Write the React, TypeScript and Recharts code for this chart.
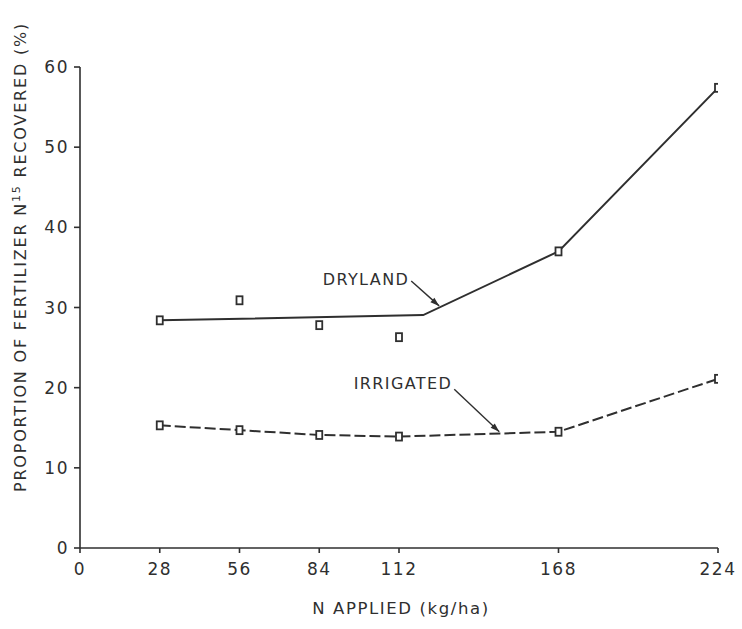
import React from 'react';
import {
  ComposedChart,
  Line,
  Scatter,
  XAxis,
  YAxis,
  ReferenceLine,
} from 'recharts';

// N applied (kg/ha)
const xTicks = [0, 28, 56, 84, 112, 168, 224];
const yTicks = [0, 10, 20, 30, 40, 50, 60];

// measured points
const drylandPoints = [
  { x: 28, y: 28.4 },
  { x: 56, y: 30.9 },
  { x: 84, y: 27.8 },
  { x: 112, y: 26.3 },
  { x: 168, y: 37.0 },
  { x: 224, y: 57.4 },
];
const irrigatedPoints = [
  { x: 28, y: 15.3 },
  { x: 56, y: 14.7 },
  { x: 84, y: 14.1 },
  { x: 112, y: 13.9 },
  { x: 168, y: 14.5 },
  { x: 224, y: 21.1 },
];

// fitted dryland segments (do not pass through every point)
const drylandFit = [
  { x: 28, y: 28.4 },
  { x: 120.5, y: 29.05 },
  { x: 168, y: 37.0 },
  { x: 224, y: 57.4 },
];

// series annotations: arrow from label to line
const annotations = [
  { label: 'DRYLAND', from: { x: 116.3, y: 33.3 }, to: { x: 126.1, y: 30.2 }, dy: 4 },
  { label: 'IRRIGATED', from: { x: 131.4, y: 19.8 }, to: { x: 147.2, y: 14.5 }, dy: 0 },
];

const INK = '#2f2f2f';
const FONT = '"DejaVu Sans", sans-serif';

const SquareDot = (props: any) => {
  const { cx, cy } = props;
  if (cx == null || cy == null) return null;
  return (
    <rect x={cx - 3} y={cy - 4} width={6} height={8} fill="#fff" stroke={INK} strokeWidth={1.8} />
  );
};

const arrowShape = (label: string, dy: number) => (props: any) => {
  const { x1, y1, x2, y2 } = props;
  const ang = Math.atan2(y2 - y1, x2 - x1);
  const len = 9;
  const w = 3;
  const bx = x2 - len * Math.cos(ang);
  const by = y2 - len * Math.sin(ang);
  const px = -Math.sin(ang) * w;
  const py = Math.cos(ang) * w;
  return (
    <g>
      <line x1={x1} y1={y1} x2={x2} y2={y2} stroke={INK} strokeWidth={1.4} />
      <polygon points={`${x2},${y2} ${bx + px},${by + py} ${bx - px},${by - py}`} fill={INK} />
      <text
        x={x1 - 2}
        y={y1 + dy}
        textAnchor="end"
        fontFamily={FONT}
        fontSize={16}
        letterSpacing={1.4}
        fill={INK}
      >
        {label}
      </text>
    </g>
  );
};

export default function App() {
  return (
    <div style={{ position: 'absolute', left: 0, top: 0, width: 742, height: 629, background: '#fff' }}>
      <ComposedChart width={742} height={629} margin={{ top: 67, right: 24, left: 0, bottom: 51 }}>
        <XAxis
          type="number"
          dataKey="x"
          domain={[0, 224]}
          ticks={xTicks}
          interval={0}
          axisLine={{ stroke: INK, strokeWidth: 1.6 }}
          tickLine={{ stroke: INK, strokeWidth: 1.6 }}
          tickSize={5}
          tickMargin={10}
          height={30}
          tick={{ fill: INK, fontSize: 17, fontFamily: FONT, letterSpacing: 1.5 }}
          allowDataOverflow
        />
        <YAxis
          type="number"
          dataKey="y"
          domain={[0, 60]}
          ticks={yTicks}
          interval={0}
          width={80}
          axisLine={{ stroke: INK, strokeWidth: 1.6 }}
          tickLine={{ stroke: INK, strokeWidth: 1.6 }}
          tickSize={6}
          tickMargin={5}
          tick={{ fill: INK, fontSize: 17, fontFamily: FONT, letterSpacing: 1.5 }}
          label={{
            content: () => (
              <text
                transform="translate(26, 257) rotate(-90)"
                textAnchor="middle"
                fontFamily={FONT}
                fontSize={16}
                letterSpacing={1.8}
                fill={INK}
              >
                PROPORTION OF FERTILIZER N
                <tspan dy={-6} fontSize={11}>15</tspan>
                <tspan dy={6}> RECOVERED (%)</tspan>
              </text>
            ),
          }}
        />
        <Line
          data={drylandFit}
          dataKey="y"
          type="linear"
          stroke={INK}
          strokeWidth={2}
          dot={false}
          activeDot={false}
          isAnimationActive={false}
        />
        <Line
          data={irrigatedPoints}
          dataKey="y"
          type="linear"
          stroke={INK}
          strokeWidth={2}
          strokeDasharray="11 4"
          dot={false}
          activeDot={false}
          isAnimationActive={false}
        />
        <Scatter data={drylandPoints} dataKey="y" shape={<SquareDot />} isAnimationActive={false} />
        <Scatter data={irrigatedPoints} dataKey="y" shape={<SquareDot />} isAnimationActive={false} />
        {annotations.map((a) => (
          <ReferenceLine
            key={a.label}
            segment={[a.from, a.to]}
            shape={arrowShape(a.label, a.dy)}
          />
        ))}
        <text
          x={401}
          y={614}
          textAnchor="middle"
          fontFamily={FONT}
          fontSize={16.5}
          letterSpacing={1.6}
          fill={INK}
        >
          N APPLIED (kg/ha)
        </text>
      </ComposedChart>
    </div>
  );
}
